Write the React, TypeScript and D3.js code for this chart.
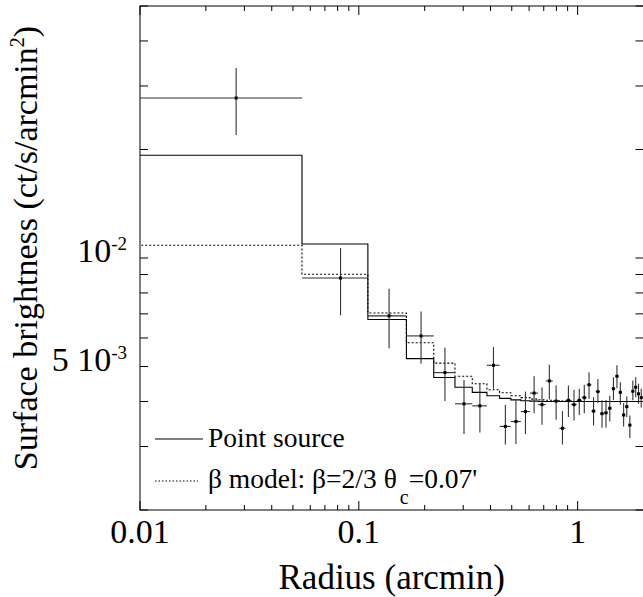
import { useEffect, useRef } from "react";
import * as d3 from "d3";

// radial profile, annuli 0.055' wide (bin centres in arcmin)
const radius = [
  0.0275, 0.0825, 0.1375, 0.1925, 0.2475, 0.3025, 0.3575, 0.4125, 0.4675, 0.5225,
  0.5775, 0.6325, 0.6875, 0.7425, 0.7975, 0.8525, 0.9075, 0.9625, 1.0175, 1.0725,
  1.1275, 1.1825, 1.2375, 1.2925, 1.3475, 1.4025, 1.4575, 1.5125, 1.5675, 1.6225,
  1.6775, 1.7325, 1.7875, 1.8425, 1.8975, 1.9525,
];
const BIN_HALF = 0.0275;

// observed surface brightness (ct/s/arcmin^2) and 1 sigma limits
const brightness = [
  0.02778, 0.0088, 0.00691, 0.00608, 0.00481, 0.00394, 0.00389, 0.00504, 0.00341, 0.00352,
  0.00375, 0.00422, 0.00392, 0.00456, 0.00401, 0.00337, 0.00403, 0.00392, 0.00403, 0.0041,
  0.00445, 0.00376, 0.00426, 0.0037, 0.00372, 0.00383, 0.00434, 0.0047, 0.00424, 0.00367,
  0.00387, 0.00344, 0.00427, 0.00438, 0.0042, 0.0041,
];
const errLow = [
  0.02192, 0.00693, 0.00562, 0.00509, 0.00401, 0.00325, 0.00328, 0.00434, 0.00304, 0.00305,
  0.00325, 0.00371, 0.00345, 0.00405, 0.00356, 0.00304, 0.00362, 0.00354, 0.00367, 0.00371,
  0.00407, 0.00343, 0.00396, 0.00338, 0.00339, 0.00352, 0.00404, 0.00435, 0.00392, 0.00341,
  0.00362, 0.00317, 0.00403, 0.00411, 0.00394, 0.00385,
];
const errHigh = [
  0.03364, 0.01066, 0.00822, 0.00711, 0.00564, 0.00459, 0.00449, 0.00566, 0.00392, 0.00403,
  0.00426, 0.0047, 0.00437, 0.00506, 0.00443, 0.00376, 0.00443, 0.00431, 0.00434, 0.00445,
  0.00482, 0.00411, 0.00462, 0.00403, 0.00404, 0.00415, 0.00467, 0.00504, 0.00452, 0.00396,
  0.00413, 0.00366, 0.00457, 0.00467, 0.00448, 0.00434,
];

// models folded through the same bins
const pointSource = [
  0.01928, 0.01094, 0.00675, 0.00526, 0.00466, 0.00438, 0.00424, 0.00415, 0.00408, 0.00404,
  0.00402, 0.00401, 0.004, 0.004, 0.004, 0.004, 0.004, 0.004, 0.004, 0.004,
  0.004, 0.004, 0.004, 0.004, 0.004, 0.004, 0.004, 0.004, 0.004, 0.004,
  0.004, 0.004, 0.004, 0.004, 0.004, 0.004,
];
const betaModel = [
  0.01085, 0.00901, 0.00704, 0.00582, 0.00511, 0.0047, 0.00448, 0.00431, 0.00423, 0.00415,
  0.0041, 0.00406, 0.00404, 0.00403, 0.00402, 0.00401, 0.00401, 0.004, 0.004, 0.004,
  0.004, 0.004, 0.004, 0.004, 0.004, 0.004, 0.004, 0.004, 0.004, 0.004,
  0.004, 0.004, 0.004, 0.004, 0.004, 0.004,
];

const xMajor = [0.01, 0.1, 1];
const xTickLabels = ["0.01", "0.1", "1"];
const yTickValues = [0.01, 0.005];
const yTickBase = ["10", "5 10"];
const yTickSup = ["-2", "-3"];

const FONT = "Liberation Serif";

function App() {
  const ref = useRef(null);

  const width = 643;
  const height = 597;
  const margin = { top: 6, right: 0, bottom: 87, left: 140 };
  const plotRight = 643.5;

  useEffect(() => {
    const svg = d3.select(ref.current);
    svg.selectAll("*").remove();

    const x = d3.scaleLog().domain([0.01, 2]).range([margin.left, plotRight]);
    const y = d3
      .scaleLog()
      .domain([0.002, 0.05])
      .range([height - margin.bottom, margin.top]);

    const top = margin.top;
    const bottom = height - margin.bottom;

    svg
      .append("defs")
      .append("clipPath")
      .attr("id", "plot-clip")
      .append("rect")
      .attr("x", margin.left)
      .attr("y", top)
      .attr("width", plotRight - margin.left)
      .attr("height", bottom - top);

    const plot = svg.append("g").attr("clip-path", "url(#plot-clip)");

    // step histograms for the two models
    const stepLine = d3
      .line()
      .x((d) => x(d[0]))
      .y((d) => y(d[1]))
      .curve(d3.curveStepAfter);

    const steps = (vals) => {
      const pts = vals.map((v, i) => [Math.max(radius[i] - BIN_HALF, 0.001), v]);
      pts.push([2.1, vals[vals.length - 1]]);
      return pts;
    };

    plot
      .append("path")
      .attr("d", stepLine(steps(betaModel)))
      .attr("fill", "none")
      .attr("stroke", "#000")
      .attr("stroke-width", 1.1)
      .attr("stroke-dasharray", "2,2");

    plot
      .append("path")
      .attr("d", stepLine(steps(pointSource)))
      .attr("fill", "none")
      .attr("stroke", "#000")
      .attr("stroke-width", 1.1);

    // data with error bars
    const pts = plot.append("g").attr("stroke", "#333").attr("stroke-width", 1.1);
    radius.forEach((r, i) => {
      pts
        .append("line")
        .attr("x1", x(r))
        .attr("x2", x(r))
        .attr("y1", y(errLow[i]))
        .attr("y2", y(errHigh[i]));
      pts
        .append("line")
        .attr("x1", x(Math.max(r - BIN_HALF, 0.001)))
        .attr("x2", x(r + BIN_HALF))
        .attr("y1", y(brightness[i]))
        .attr("y2", y(brightness[i]));
    });
    plot
      .append("g")
      .selectAll("rect")
      .data(radius)
      .enter()
      .append("rect")
      .attr("x", (d) => x(d) - 1.5)
      .attr("y", (d, i) => y(brightness[i]) - 1.5)
      .attr("width", 3)
      .attr("height", 3)
      .attr("fill", "#000");

    // frame
    svg
      .append("rect")
      .attr("x", margin.left)
      .attr("y", top)
      .attr("width", plotRight - margin.left)
      .attr("height", bottom - top)
      .attr("fill", "none")
      .attr("stroke", "#000")
      .attr("stroke-width", 1);

    // ticks
    const tk = svg.append("g").attr("stroke", "#000").attr("stroke-width", 1);
    x.ticks().forEach((t) => {
      const len = xMajor.some((m) => Math.abs(m - t) < 1e-9) ? 9 : 5;
      tk.append("line").attr("x1", x(t)).attr("x2", x(t)).attr("y1", bottom).attr("y2", bottom - len);
      tk.append("line").attr("x1", x(t)).attr("x2", x(t)).attr("y1", top).attr("y2", top + len);
    });
    y.ticks().forEach((t) => {
      tk.append("line").attr("x1", margin.left).attr("x2", margin.left + 8).attr("y1", y(t)).attr("y2", y(t));
      tk.append("line").attr("x1", plotRight).attr("x2", plotRight - 8).attr("y1", y(t)).attr("y2", y(t));
    });

    const txt = (sel) => sel.style("font-family", FONT).attr("fill", "#000");

    // tick labels
    xMajor.forEach((t, i) => {
      txt(svg.append("text"))
        .attr("x", x(t))
        .attr("y", 543)
        .attr("text-anchor", "middle")
        .attr("font-size", 34)
        .text(xTickLabels[i]);
    });
    yTickValues.forEach((t, i) => {
      const lab = txt(svg.append("text"))
        .attr("x", 127)
        .attr("y", y(t) + 4)
        .attr("text-anchor", "end")
        .attr("font-size", 34);
      lab.append("tspan").text(yTickBase[i]);
      lab.append("tspan").attr("font-size", 19).attr("dy", -12).text(yTickSup[i]);
    });

    // axis titles
    txt(svg.append("text"))
      .attr("x", (margin.left + plotRight) / 2)
      .attr("y", 589)
      .attr("text-anchor", "middle")
      .attr("font-size", 35)
      .text("Radius (arcmin)");

    const yt = txt(svg.append("text"))
      .attr("transform", "translate(37,248) rotate(-90)")
      .attr("text-anchor", "middle")
      .attr("font-size", 34);
    yt.append("tspan").text("Surface brightness (ct/s/arcmin");
    yt.append("tspan").attr("font-size", 20).attr("dy", -13).text("2");
    yt.append("tspan").attr("dy", 13).text(")");

    // legend
    svg
      .append("line")
      .attr("x1", 155)
      .attr("x2", 203)
      .attr("y1", 439)
      .attr("y2", 439)
      .attr("stroke", "#000")
      .attr("stroke-width", 1.1);
    txt(svg.append("text"))
      .attr("x", 208)
      .attr("y", 447)
      .attr("font-size", 27.5)
      .text("Point source");

    svg
      .append("line")
      .attr("x1", 155)
      .attr("x2", 198)
      .attr("y1", 481)
      .attr("y2", 481)
      .attr("stroke", "#000")
      .attr("stroke-width", 1)
      .attr("stroke-dasharray", "1.5,2");
    const lb = txt(svg.append("text"))
      .attr("x", 208)
      .attr("y", 488)
      .attr("font-size", 27.5);
    lb.append("tspan").text("\u03b2 model: \u03b2=2/3 \u03b8");
    lb.append("tspan").attr("font-size", 20).attr("dx", 3).attr("dy", 16).text("c");
    lb.append("tspan").attr("dy", -16).text("=0.07'");
  }, []);

  return (
    <svg
      ref={ref}
      width={width}
      height={height}
      style={{ position: "absolute", left: 0, top: 0, background: "#fff" }}
    />
  );
}

export default App;
